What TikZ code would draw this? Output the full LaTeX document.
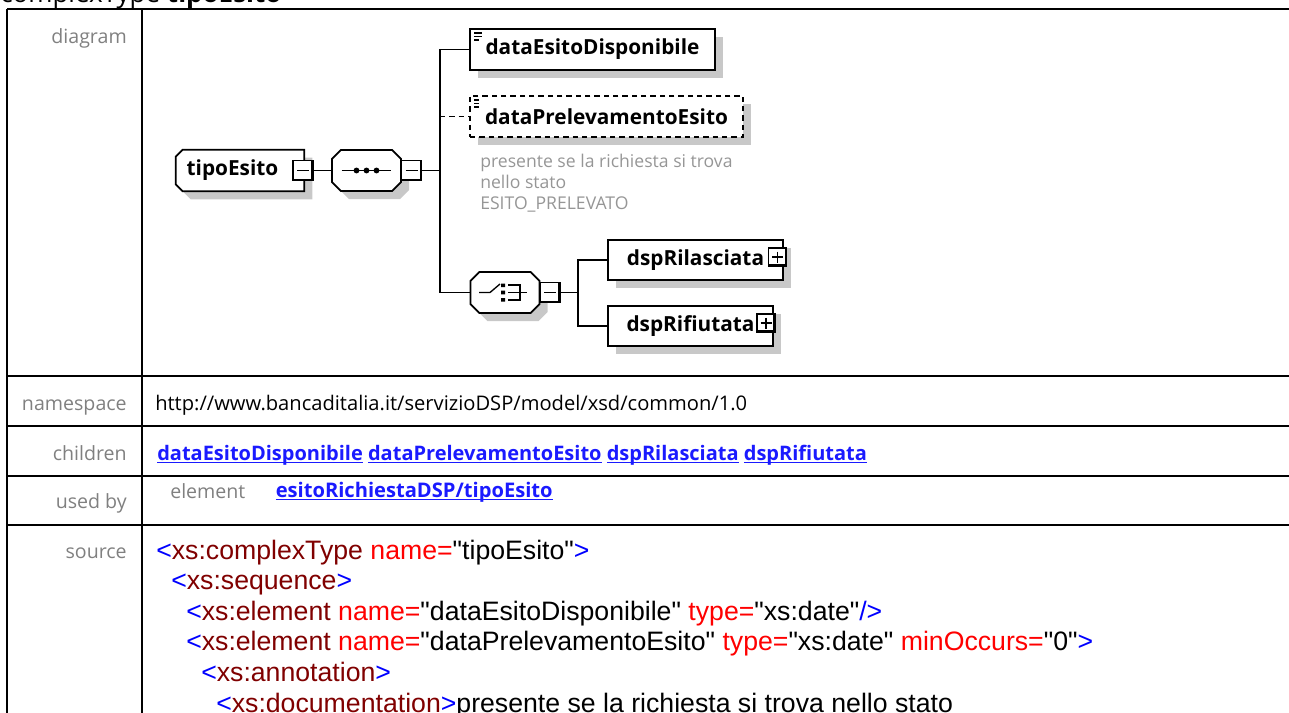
\documentclass[tikz,border=0pt]{standalone}
\usepackage{fontspec}
\setmainfont{Open Sans}
\newfontfamily\sorgente{Liberation Sans}
\usetikzlibrary{shadows, calc, backgrounds}
\definecolor{grigio}{RGB}{128,128,128}
\definecolor{grigionota}{RGB}{150,150,150}
\definecolor{ombra}{RGB}{200,200,200}
\definecolor{blu}{RGB}{0,0,255}
\definecolor{marrone}{RGB}{128,0,0}
\definecolor{rosso}{RGB}{255,0,0}
\definecolor{collegamento}{RGB}{26,26,255}
% colori del sorgente xml
\newcommand{\xb}[1]{\textcolor{blu}{#1}}
\newcommand{\xe}[1]{\textcolor{marrone}{#1}}
\newcommand{\xa}[1]{\textcolor{rosso}{#1}}
\newcommand{\sott}[1]{\sbox0{#1}\rlap{\rule[-2.2pt]{\wd0}{0.9pt}}\usebox0}
% contorno smussato: nodo, smusso sinistro, smusso destro
\newcommand{\contorno}[3]{($(#1.north west)+(#2,0)$) -- ($(#1.north east)+(-#3,0)$)
  -- ($(#1.north east)+(0,#3)$) -- ($(#1.south east)+(0,-#3)$) -- ($(#1.south east)+(-#3,0)$)
  -- ($(#1.south west)+(#2,0)$) -- ($(#1.south west)+(0,-#2)$) -- ($(#1.north west)+(0,#2)$) -- cycle}
\newcommand{\ottagono}[3]{%
  \begin{scope}[on background layer]
    \fill[ombra, transform canvas={shift={(6pt,-6pt)}}] \contorno{#1}{#2}{#3};
    \draw[line width=1.3pt, fill=white] \contorno{#1}{#2}{#3};
  \end{scope}}
\tikzset{
  ombreggiata/.style={drop shadow={shadow xshift=6pt, shadow yshift=-6pt, fill=ombra, opacity=1}},
  elemento/.style={draw, fill=white, line width=1.3pt, minimum height=30.75pt,
    font=\fontsize{15.6}{18}\selectfont\bfseries, ombreggiata},
  semplice/.style={path picture={
    \draw[line width=0.8pt] ($(path picture bounding box.north west)+(4,4)$) -- ++(8,0)
      ($(path picture bounding box.north west)+(4,7.5)$) -- ++(8,0)
      ($(path picture bounding box.north west)+(4,11)$) -- ++(5,0);}},
  compositore/.style={inner sep=0pt, minimum width=51.5pt, minimum height=30.5pt},
  meno/.style={draw, fill=white, line width=1.1pt, minimum size=15pt, inner sep=0pt,
    path picture={
      \draw[line width=1pt] ($(path picture bounding box.west)+(4,0)$) -- ($(path picture bounding box.east)+(-4,0)$);
      \draw[line width=2.6pt] (path picture bounding box.north east) -- (path picture bounding box.south east)
        -- (path picture bounding box.south west);}},
  piu/.style={draw, fill=white, line width=1.1pt, minimum size=13.5pt, inner sep=0pt,
    path picture={
      \draw[line width=1pt] ($(path picture bounding box.west)+(3.5,0)$) -- ($(path picture bounding box.east)+(-3.5,0)$)
        ($(path picture bounding box.north)+(0,3.5)$) -- ($(path picture bounding box.south)+(0,-3.5)$);
      \draw[line width=2.4pt] (path picture bounding box.north east) -- (path picture bounding box.south east)
        -- (path picture bounding box.south west);}},
  linea/.style={line width=1.3pt},
  tratteggio/.style={dash pattern=on 4pt off 3pt},
  bordo/.style={line width=1.5pt},
  etichetta/.style={anchor=base east, inner sep=0pt, text=grigio, font=\fontsize{14.7}{17}\selectfont},
  valore/.style={anchor=base west, inner sep=0pt, font=\fontsize{15.1}{17}\selectfont},
  codice/.style={anchor=base west, inner sep=0pt, font=\sorgente\fontsize{20}{23}\selectfont},
}

\begin{document}
\begin{tikzpicture}[x=0.75pt, y=-0.75pt]
\useasboundingbox (0,0) rectangle (1289,713);

% titolo (tagliato in alto)
\node[anchor=base west, inner sep=0pt, font=\fontsize{19.5}{22}\selectfont] (titolo) at (0,3)
  {complexType \textbf{tipoEsito}};

% tabella
\draw[bordo] (7,9) -- (1300,9);
\draw[bordo] (7,375.7) -- (1300,375.7);
\draw[bordo] (7,426) -- (1300,426);
\draw[bordo] (7,476) -- (1300,476);
\draw[bordo] (7,524.7) -- (1300,524.7);
\draw[bordo] (7,9) -- (7,720);
\draw[bordo] (141.5,9) -- (141.5,720);

\node[etichetta] (lDiagram) at (127,43.3) {diagram};
\node[etichetta] (lNamespace) at (127,410) {namespace};
\node[etichetta] (lChildren) at (127,460) {children};
\node[etichetta] (lUsedBy) at (127,508.3) {used by};
\node[etichetta] (lSource) at (127,558) {source};

% diagramma
\node[compositore, minimum width=96pt, minimum height=30.75pt, inner xsep=2pt,
  text width=80pt, align=left, font=\fontsize{15.6}{18}\selectfont\bfseries] (tipo) at (240,170.5) {tipoEsito};
\ottagono{tipo}{7}{0}
\node[meno] (tMeno) at (303,170.5) {};

\node[compositore] (seq) at (366.5,170.5) {};
\ottagono{seq}{9}{9}
\draw[line width=1pt] ($(seq.center)+(-25,0)$) -- ($(seq.center)+(24,0)$);
\fill ($(seq.center)+(-10,0)$) circle (2.2pt) (seq.center) circle (2.2pt) ($(seq.center)+(10,0)$) circle (2.2pt);
\node[meno] (sMeno) at (411.5,170.5) {};

\node[elemento, semplice, minimum width=183.75pt] (dEsito) at (592.5,49.5) {dataEsitoDisponibile};
\node[elemento, semplice, tratteggio, minimum width=204.75pt] (dPrel) at (606.5,116.5) {dataPrelevamentoEsito};
\node[anchor=north west, inner sep=0pt, align=left, text=grigionota,
  font=\fontsize{13.2}{15.75}\selectfont] (nota) at (480,153.5)
  {presente se la richiesta si trova\\nello stato\\ESITO\_PRELEVATO};

\node[compositore] (ch) at (505,292.5) {};
\ottagono{ch}{9}{9}
\draw[line width=1pt] ($(ch.center)+(-26,0)$) -- ($(ch.center)+(-15,0)$) -- ($(ch.center)+(-5,-8.5)$);
\fill ($(ch.center)+(-4,-9)$) rectangle ($(ch.center)+(0,-5.5)$)
  ($(ch.center)+(-4,-1.8)$) rectangle ($(ch.center)+(0,1.8)$)
  ($(ch.center)+(-4,5.5)$) rectangle ($(ch.center)+(0,9)$);
\draw[line width=1pt] ($(ch.center)+(3,-7.5)$) -- ($(ch.center)+(15,-7.5)$) -- ($(ch.center)+(15,7.5)$) -- ($(ch.center)+(3,7.5)$)
  ($(ch.center)+(3,0)$) -- ($(ch.center)+(22,0)$);
\node[meno] (cMeno) at (550,292.5) {};

\node[elemento, minimum width=131.25pt, minimum height=30pt] (dspRil) at (695.5,260) {dspRilasciata};
\node[piu] (rilPiu) at (777.5,257) {};
\node[elemento, minimum width=123.75pt, minimum height=30pt] (dspRif) at (690.5,326) {dspRifiutata};
\node[piu] (rifPiu) at (766,323) {};

% collegamenti
\coordinate (tronco) at (440,170.5);
\coordinate (tronco2) at (578,292.5);
\draw[linea] (tMeno.east) -- (seq.west);
\draw[linea] (sMeno.east) -- (tronco);
\draw[linea] (dEsito.west) -| (tronco) |- (ch.west);
\draw[linea, tratteggio] (dPrel.west -| tronco) -- (dPrel.west);
\draw[linea] (cMeno.east) -- (tronco2);
\draw[linea] (dspRil.west) -| (tronco2) |- (dspRif.west);

% righe di testo
\node[valore] (ns) at (155,410) {http://www.bancaditalia.it/servizioDSP/model/xsd/common/1.0};
\node[valore, text=collegamento, font=\fontsize{15}{17}\selectfont\bfseries] (figli) at (157,460)
  {\sott{dataEsitoDisponibile} \sott{dataPrelevamentoEsito} \sott{dspRilasciata} \sott{dspRifiutata}};
\node[valore, text=grigio, font=\fontsize{14.7}{17}\selectfont] (tipoUso) at (170,498) {element};
\node[valore, text=collegamento, font=\fontsize{15.1}{17}\selectfont\bfseries] (uso) at (275.5,497)
  {\sott{esitoRichiestaDSP/tipoEsito}};

\node[codice] (src1) at (156,559) {\xb{<}\xe{xs:complexType} \xa{name=}"tipoEsito"\xb{>}};
\node[codice] (src2) at (171,589) {\xb{<}\xe{xs:sequence}\xb{>}};
\node[codice] (src3) at (186,620) {\xb{<}\xe{xs:element} \xa{name=}"dataEsitoDisponibile" \xa{type=}"xs:date"\xb{/>}};
\node[codice] (src4) at (186,650) {\xb{<}\xe{xs:element} \xa{name=}"dataPrelevamentoEsito" \xa{type=}"xs:date" \xa{minOccurs=}"0"\xb{>}};
\node[codice] (src5) at (201,681) {\xb{<}\xe{xs:annotation}\xb{>}};
\node[codice] (src6) at (216,712) {\xb{<}\xe{xs:documentation}\xb{>}presente se la richiesta si trova nello stato};

\end{tikzpicture}
\end{document}
